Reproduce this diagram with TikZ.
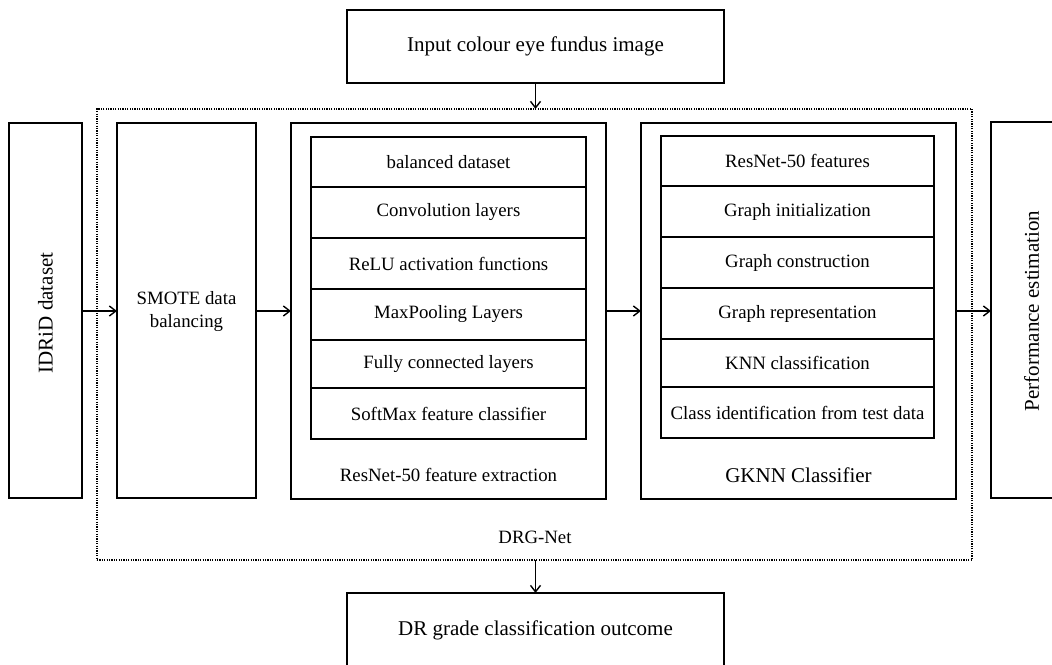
\documentclass[tikz,border=0pt]{standalone}
\usepackage{fontspec}
\setmainfont{Liberation Serif}
\usetikzlibrary{arrows.meta}
\begin{document}
\begin{tikzpicture}[x=1pt,y=-1pt,
  box/.style={draw, line width=1.7pt, inner sep=0pt, outer sep=0pt},
  rowbox/.style={draw, line width=1.7pt, inner sep=0pt, outer sep=0pt, font=\fontsize{18.8}{22}\selectfont},
  bigtxt/.style={font=\fontsize{21}{25}\selectfont, inner sep=0pt},
  smalltxt/.style={font=\fontsize{18.8}{23}\selectfont, inner sep=0pt, align=center},
  arr/.style={line width=1.5pt, -{Straight Barb[length=6.5pt,width=10pt,line width=1.4pt]}},
  dotbox/.style={draw, line width=1.5pt, dash pattern=on 1.2pt off 1.2pt, inner sep=0pt, outer sep=0pt}
]
\useasboundingbox (0,0) rectangle (1052,664);
\clip (0,0) rectangle (1052,664);
\fill[white] (0,0) rectangle (1052,664);

% top and bottom boxes
\node[box, minimum width=377pt, minimum height=73pt, bigtxt] (input) at (535.5,46.5) {Input colour eye fundus image};
\node[box, minimum width=377pt, minimum height=75pt] (outcome) at (535.5,630.5) {};
\node[bigtxt] (outtxt) at (535.5,630) {DR grade classification outcome};

% dotted DRG-Net frame
\node[dotbox, minimum width=875pt, minimum height=451pt] (drg) at (534.5,334.5) {};
\node[smalltxt] (drglbl) at (535,537) {DRG-Net};

% side boxes
\node[box, minimum width=73pt, minimum height=375pt] (idrid) at (45.5,310.5) {};
\node[bigtxt, rotate=90] (idridtxt) at (45.5,313) {IDRiD dataset};
\node[box, minimum width=80pt, minimum height=376pt, anchor=west] (perf) at (991,310) {};
\node[bigtxt, rotate=90] (perftxt) at (1031.5,311) {Performance estimation};

% SMOTE
\node[box, minimum width=139pt, minimum height=375pt] (smote) at (186.5,310.5) {};
\node[smalltxt] (smotetxt) at (186.5,312) {SMOTE data\\balancing};

% ResNet block
\node[box, minimum width=315pt, minimum height=376pt] (resnet) at (448.5,311) {};
\node[smalltxt] (resnetlbl) at (448.5,475) {ResNet-50 feature extraction};
\node[rowbox, minimum width=275pt, minimum height=50pt] (r1) at (448.5,162) {balanced dataset};
\node[rowbox, minimum width=275pt, minimum height=51pt] (r2) at (448.5,212.5) {Convolution layers};
\node[rowbox, minimum width=275pt, minimum height=51pt] (r3) at (448.5,263.5) {ReLU activation functions};
\node[rowbox, minimum width=275pt, minimum height=51pt] (r4) at (448.5,314.5) {MaxPooling Layers};
\node[rowbox, minimum width=275pt, minimum height=48pt] (r5) at (448.5,364) {Fully connected layers};
\node[rowbox, minimum width=275pt, minimum height=51pt] (r6) at (448.5,413.5) {SoftMax feature classifier};

% GKNN block
\node[box, minimum width=315pt, minimum height=376pt] (gknn) at (798.5,311) {};
\node[bigtxt] (gknnlbl) at (798.5,475) {GKNN Classifier};
\node[rowbox, minimum width=273pt, minimum height=50pt] (g1) at (797.5,161) {ResNet-50 features};
\node[rowbox, minimum width=273pt, minimum height=51pt] (g2) at (797.5,211.5) {Graph initialization};
\node[rowbox, minimum width=273pt, minimum height=51pt] (g3) at (797.5,262.5) {Graph construction};
\node[rowbox, minimum width=273pt, minimum height=51pt] (g4) at (797.5,313.5) {Graph representation};
\node[rowbox, minimum width=273pt, minimum height=48pt] (g5) at (797.5,363) {KNN classification};
\node[rowbox, minimum width=273pt, minimum height=51pt] (g6) at (797.5,412.5) {Class identification from test data};

% connectors
\draw[arr] (input.south) -- (input.south |- drg.north);
\draw[arr] (drg.south -| outcome.north) -- (outcome.north);
\draw[arr] (idrid.east |- 0,311) -- (smote.west |- 0,311);
\draw[arr] (smote.east |- 0,311) -- (resnet.west |- 0,311);
\draw[arr] (resnet.east |- 0,311) -- (gknn.west |- 0,311);
\draw[arr] (gknn.east |- 0,311) -- (perf.west |- 0,311);
\end{tikzpicture}
\end{document}
